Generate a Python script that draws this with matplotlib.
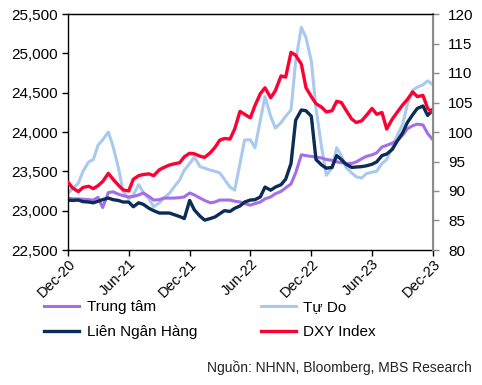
import pandas as pd
import matplotlib.pyplot as plt
import matplotlib.dates as mdates
from matplotlib.ticker import FuncFormatter

plt.rcParams['font.family'] = ['Liberation Sans', 'DejaVu Sans']

# Semi-monthly dates, Dec-20 .. Dec-23
ngay = pd.date_range('2020-12-01', '2023-12-01', freq='SMS')

trung_tam = [23160, 23150, 23150, 23145, 23140, 23135, 23170, 23040, 23230, 23240,
             23210, 23190, 23175, 23180, 23200, 23225, 23180, 23135, 23140, 23160,
             23160, 23160, 23165, 23175, 23225, 23200, 23160, 23130, 23100, 23110,
             23135, 23135, 23135, 23120, 23110, 23090, 23070, 23090, 23110, 23150,
             23175, 23215, 23245, 23290, 23340, 23480, 23710, 23700, 23690, 23680,
             23670, 23650, 23640, 23620, 23610, 23600, 23600, 23620, 23660, 23690,
             23710, 23735, 23810, 23830, 23860, 23890, 23960, 24040, 24080, 24100,
             24090, 23980, 23900]

lien_ngan_hang = [23135, 23130, 23135, 23115, 23110, 23100, 23120, 23140, 23160, 23140,
                  23130, 23110, 23110, 23050, 23100, 23080, 23030, 23000, 22970, 22970,
                  22970, 22950, 22925, 22900, 23130, 23010, 22930, 22880, 22900, 22920,
                  22960, 23000, 22990, 23030, 23060, 23110, 23135, 23140, 23175, 23300,
                  23260, 23300, 23330, 23400, 23600, 24150, 24280, 24270, 24200, 23650,
                  23580, 23540, 23550, 23700, 23650, 23590, 23550, 23555, 23560, 23570,
                  23590, 23620, 23700, 23720, 23780, 23880, 23990, 24120, 24220, 24300,
                  24330, 24210, 24290]

tu_do = [23220, 23280, 23350, 23500, 23620, 23650, 23830, 23900, 24000, 23820,
         23550, 23250, 23150, 23200, 23330, 23230, 23150, 23050, 23100, 23160,
         23220, 23300, 23390, 23515, 23600, 23680, 23560, 23540, 23515, 23500,
         23480, 23400, 23300, 23260, 23600, 23900, 23900, 23800, 24150, 24450,
         24200, 24050, 24120, 24200, 24280, 24900, 25330, 25200, 24900, 24300,
         23800, 23450, 23540, 23800, 23700, 23550, 23480, 23430, 23415, 23470,
         23490, 23500, 23600, 23650, 23800, 23950, 24100, 24350, 24530, 24570,
         24600, 24650, 24600]

dxy = [91.5, 90.5, 89.9, 90.6, 90.8, 90.4, 90.9, 91.6, 93.0, 92.0,
       91.0, 90.2, 90.0, 92.0, 92.6, 92.8, 92.9, 92.6, 93.6, 94.0,
       94.4, 94.6, 94.8, 95.8, 96.4, 96.3, 95.9, 95.7, 96.5, 97.4,
       98.6, 98.9, 98.8, 100.5, 103.5, 103.0, 102.4, 104.5, 106.5, 107.5,
       105.8, 107.0, 109.5, 109.3, 113.5, 113.0, 111.5, 107.5, 106.0, 104.8,
       104.2, 103.4, 103.6, 105.2, 105.0, 103.7, 102.2, 101.6, 101.9, 102.8,
       104.0, 103.0, 103.3, 100.5, 102.2, 103.3, 104.6, 105.5, 106.8, 106.0,
       106.2, 104.0, 103.2]

c_tt = '#a46ee8'
c_td = '#a9c9ee'
c_lnh = '#0c2c58'
c_dxy = '#ff0033'

fig = plt.figure(figsize=(4.82, 3.85), dpi=100)
ax = fig.add_axes([68 / 482, 1 - 250 / 385, 365 / 482, 236 / 385])
ax2 = ax.twinx()

l_td, = ax.plot(ngay, tu_do, color=c_td, lw=2.2, label='Tự Do')
l_tt, = ax.plot(ngay, trung_tam, color=c_tt, lw=2.2, label='Trung tâm')
l_lnh, = ax.plot(ngay, lien_ngan_hang, color=c_lnh, lw=2.4, label='Liên Ngân Hàng')
l_dxy, = ax2.plot(ngay, dxy, color=c_dxy, lw=2.4, label='DXY Index')

ax.set_xlim(pd.Timestamp('2020-12-01'), pd.Timestamp('2023-12-01'))
ax.set_ylim(22500, 25500)
ax.set_yticks(range(22500, 25501, 500))
ax.yaxis.set_major_formatter(FuncFormatter(lambda v, p: f'{int(v):,}'))
ax2.set_ylim(80, 120)
ax2.set_yticks(range(80, 121, 5))

ax.set_xticks(pd.date_range('2020-12-01', '2023-12-01', freq='6MS'))
ax.xaxis.set_major_formatter(mdates.DateFormatter('%b-%y'))

ax.tick_params(axis='y', labelsize=11, length=4, width=1, color='black', pad=3)
ax.tick_params(axis='x', labelsize=10.5, length=4, width=1, color='black', pad=1)
ax2.tick_params(axis='y', labelsize=11, length=4, width=1, color='#8c8c8c', pad=7)
for lab in ax.get_xticklabels():
    lab.set_rotation(45)
    lab.set_ha('right')
    lab.set_rotation_mode('anchor')

for s in ['left', 'bottom', 'top']:
    ax.spines[s].set_color('black')
    ax.spines[s].set_linewidth(1)
ax2.spines['right'].set_color('#8c8c8c')
ax2.spines['right'].set_linewidth(1.5)
ax2.spines['top'].set_color('black')
ax2.spines['left'].set_visible(False)
ax2.spines['bottom'].set_visible(False)

fig.legend(handles=[l_tt, l_lnh, l_td, l_dxy], ncol=2, frameon=False,
           loc='upper left', bbox_to_anchor=(44 / 482, 1 - 300 / 385),
           fontsize=11, handlelength=2.3, handletextpad=0.5,
           columnspacing=4.15, labelspacing=0.72, borderpad=0, borderaxespad=0)

fig.text(472 / 482, 1 - 368 / 385, 'Nguồn: NHNN, Bloomberg, MBS Research',
         ha='right', va='center', fontsize=10, color='#222222')

fig.savefig('out.png', dpi=100)
